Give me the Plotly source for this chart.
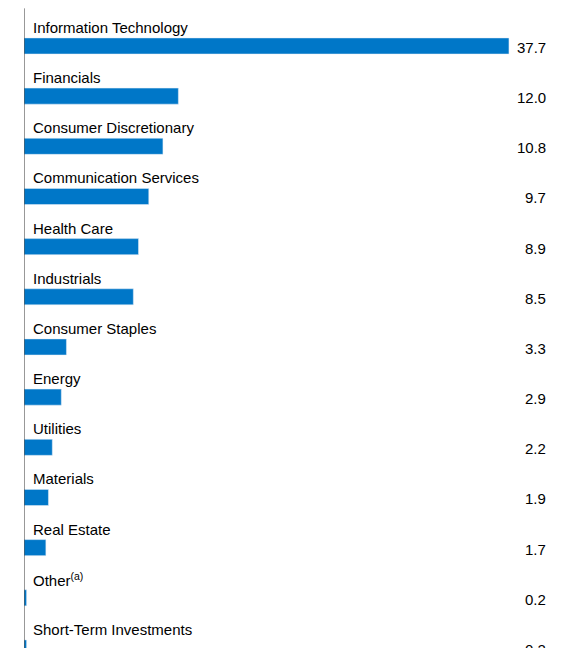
import plotly.graph_objects as go

categories = ["Information Technology", "Financials", "Consumer Discretionary",
              "Communication Services", "Health Care", "Industrials",
              "Consumer Staples", "Energy", "Utilities", "Materials",
              "Real Estate", "Other<sup>(a)</sup>", "Short-Term Investments"]
values = [37.7, 12.0, 10.8, 9.7, 8.9, 8.5, 3.3, 2.9, 2.2, 1.9, 1.7, 0.2, 0.2]
value_labels = ["37.7", "12.0", "10.8", "9.7", "8.9", "8.5", "3.3", "2.9",
                "2.2", "1.9", "1.7", "0.2", "0.2"]

pos = list(range(len(categories)))
fig = go.Figure(go.Bar(x=values, y=pos, orientation="h",
                       marker_color="#0077c8", width=0.32, hoverinfo="skip"))

font = dict(family="Liberation Sans, Arial", size=15, color="black")
for i, (c, v) in enumerate(zip(categories, value_labels)):
    fig.add_annotation(x=0, y=i - 0.37, xref="x", yref="y", text=c,
                       xanchor="left", yanchor="middle", xshift=7,
                       showarrow=False, font=font)
    fig.add_annotation(x=0.941, y=i + 0.03, xref="paper", yref="y", text=v,
                       xanchor="right", yanchor="middle",
                       showarrow=False, font=font)

fig.add_shape(type="line", x0=0, x1=0, xref="x", y0=-0.75, y1=12.2, yref="y",
              line=dict(color="#333333", width=1))

fig.update_layout(
    width=573, height=648, margin=dict(l=16, r=0, t=0, b=0),
    plot_bgcolor="white", paper_bgcolor="white", showlegend=False,
    xaxis=dict(range=[0, 43.3], visible=False),
    yaxis=dict(range=[12.16, -0.757], visible=False),
)
fig.write_html("out.html")
